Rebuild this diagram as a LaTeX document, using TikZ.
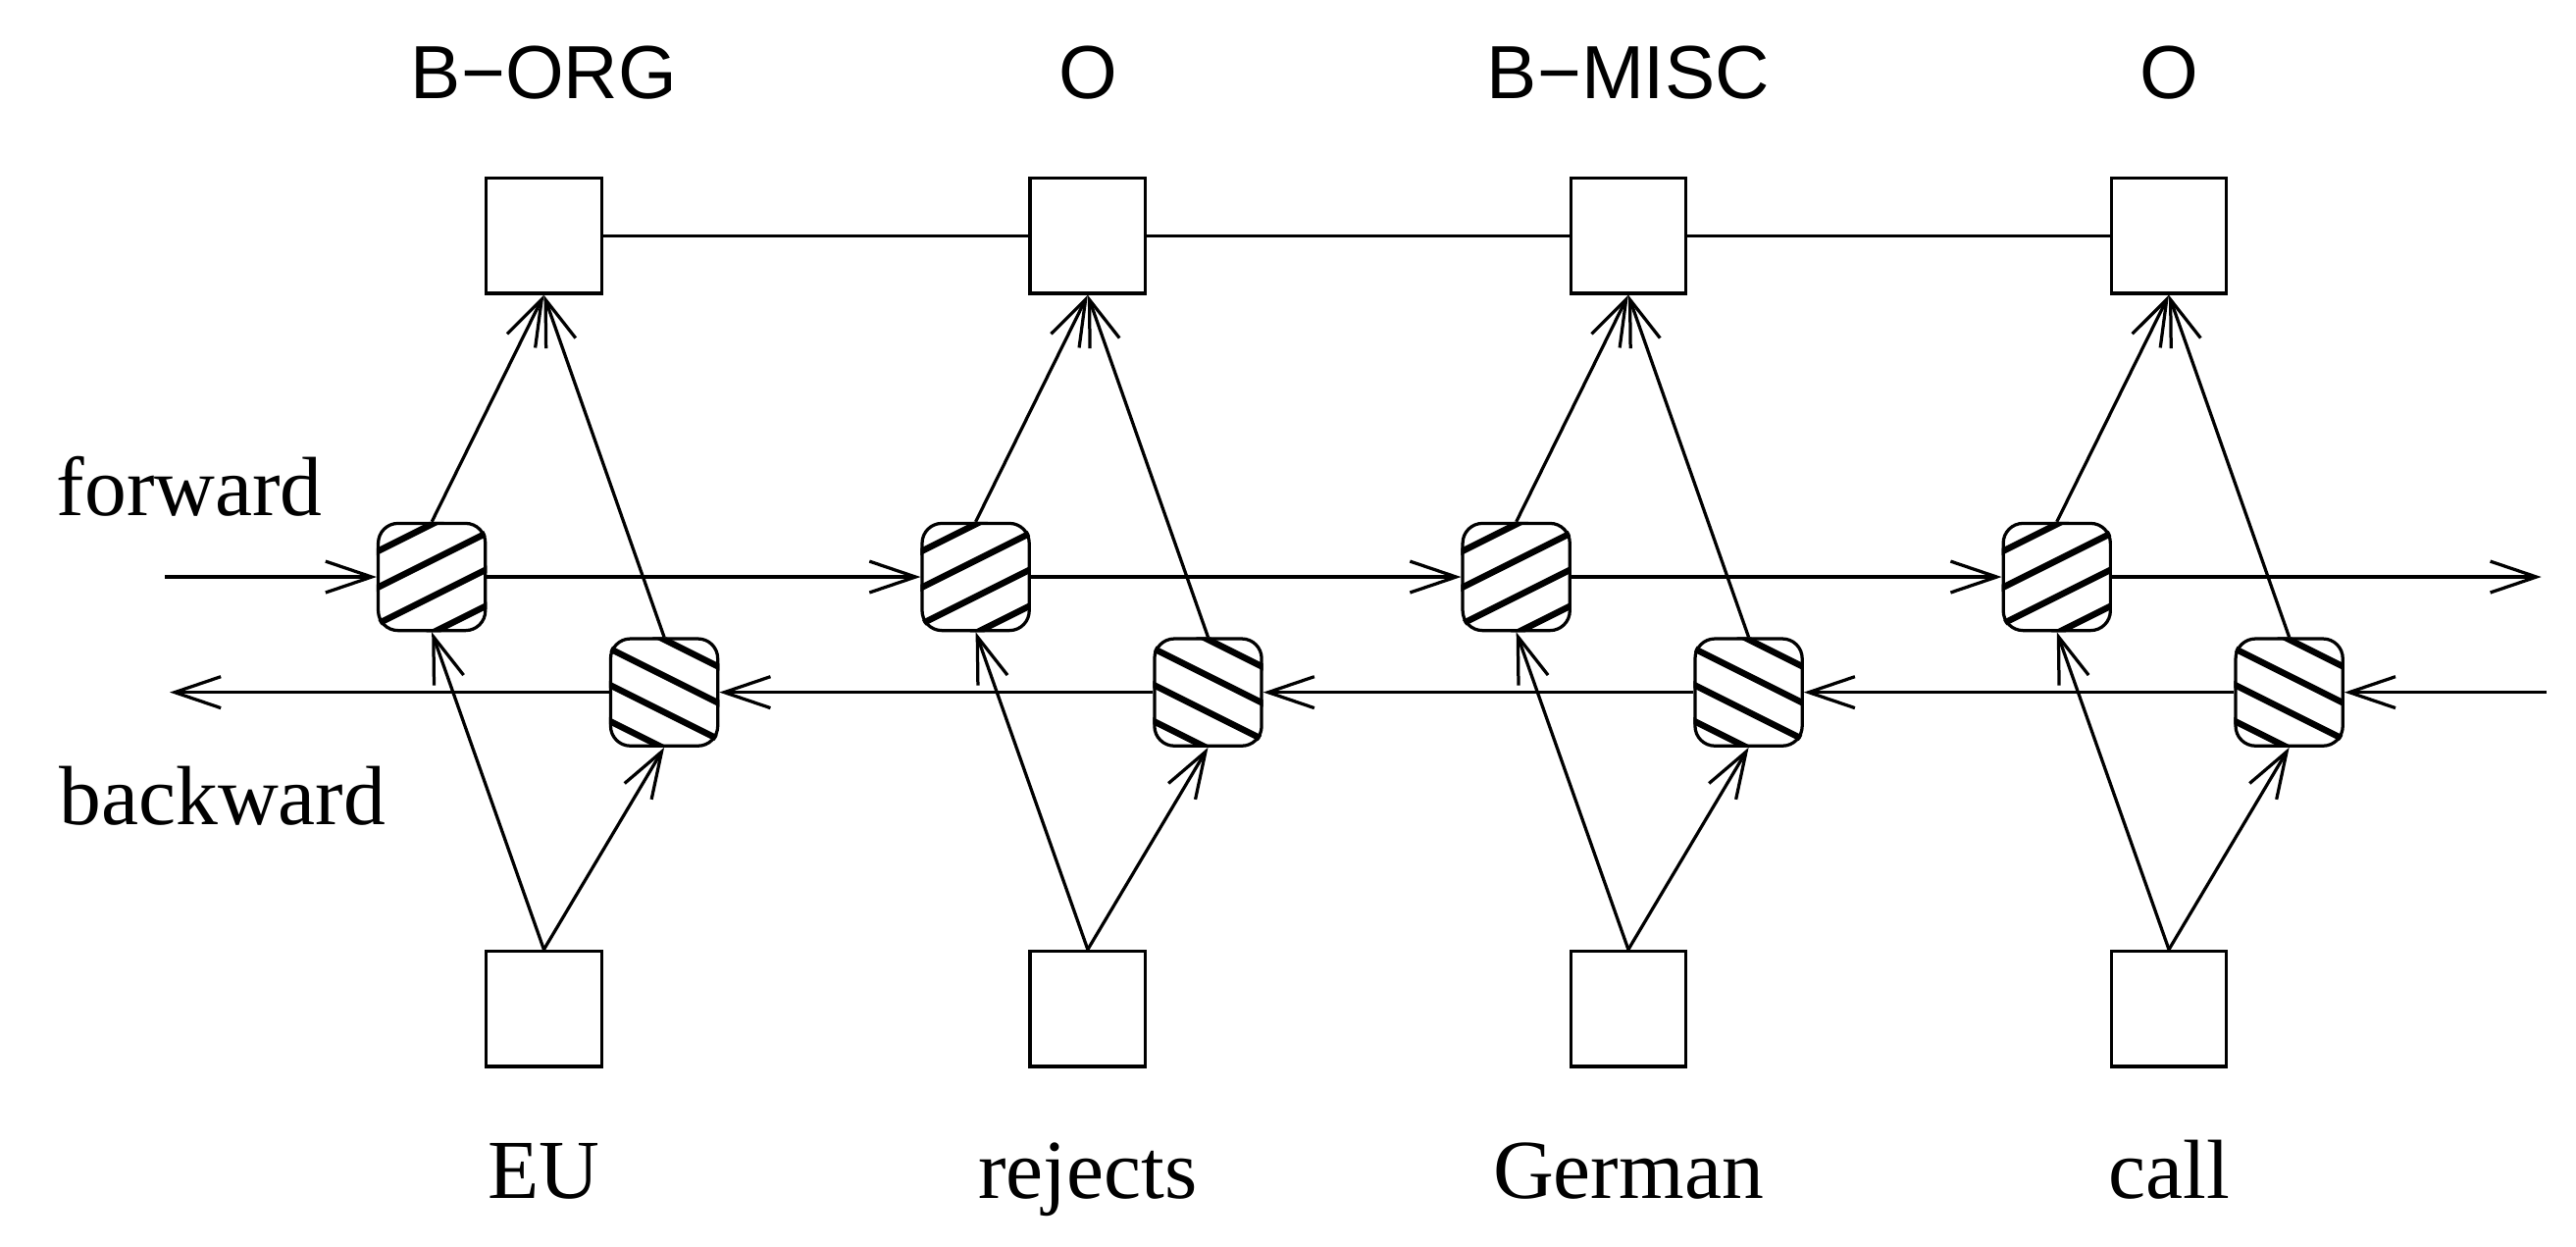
\documentclass[tikz,border=0pt]{standalone}
\usepackage{fontspec}
\setmainfont{Liberation Serif}
\newfontfamily\lsans{Liberation Sans}
\usetikzlibrary{arrows.meta}
\begin{document}
\begin{tikzpicture}[
  lw/.style={line width=0.55pt},
  sq/.style={draw,lw,minimum size=0.70cm,inner sep=0pt},
  hb/.style={draw,lw,rounded corners=1.2mm,minimum size=0.65cm,inner sep=0pt},
  arr/.style={lw,-{Straight Barb[length=2.8mm,width=1.9mm]}},
  tag/.style={font=\lsans\fontsize{13}{15}\selectfont,anchor=base},
  word/.style={font=\fontsize{14.5}{17}\selectfont,anchor=base},
  side/.style={font=\fontsize{14.5}{17}\selectfont}
]
\useasboundingbox (0,0) rectangle (15.63,-7.56);
\foreach \i/\c/\tg/\w in {1/3.30/B{\textminus}ORG/EU,2/6.60/O/rejects,3/9.88/B{\textminus}MISC/German,4/13.16/O/call}{
  \node[tag] (l\i) at (\c,-0.60) {\tg};
  \node[sq] (t\i) at (\c,-1.43) {};
  \node[sq] (w\i) at (\c,-6.12) {};
  \node[word] (n\i) at (\c,-7.27) {\w};
  \node[hb] (f\i) at (\c-0.68,-3.50) {};
  \node[hb] (b\i) at (\c+0.73,-4.20) {};
  \begin{scope}
    \clip[rounded corners=1.2mm] (f\i.south west) rectangle (f\i.north east);
    \foreach \o in {-0.34,-0.12,0.10,0.32}
      \draw[line width=1.1pt] ([shift={(-0.4,\o-0.2)}]f\i.center) -- ([shift={(0.4,\o+0.2)}]f\i.center);
  \end{scope}
  \begin{scope}
    \clip[rounded corners=1.2mm] (b\i.south west) rectangle (b\i.north east);
    \foreach \o in {-0.34,-0.12,0.10,0.32}
      \draw[line width=1.1pt] ([shift={(-0.4,\o+0.2)}]b\i.center) -- ([shift={(0.4,\o-0.2)}]b\i.center);
  \end{scope}
  \draw[arr] (f\i.north) -- (t\i.south);
  \draw[arr] (b\i.north) -- (t\i.south);
  \draw[arr] (w\i.north) -- (f\i.south);
  \draw[arr] (w\i.north) -- (b\i.south);
}
\foreach \a/\b in {1/2,2/3,3/4}{
  \draw[lw] (t\a.east) -- (t\b.west);
  \draw[arr] (f\a.east) -- (f\b.west);
  \draw[arr] (b\b.west) -- (b\a.east);
}
\coordinate (fin) at (1.00,-3.50);
\coordinate (fout) at (15.42,-3.50);
\coordinate (bin) at (15.45,-4.20);
\coordinate (bout) at (1.03,-4.20);
\draw[arr] (fin) -- (f1.west);
\draw[arr] (f4.east) -- (fout);
\draw[arr] (bin) -- (b4.east);
\draw[arr] (b1.west) -- (bout);
\node[side] (fw) at (1.15,-2.95) {forward};
\node[side] (bw) at (1.35,-4.83) {backward};
\end{tikzpicture}
\end{document}
